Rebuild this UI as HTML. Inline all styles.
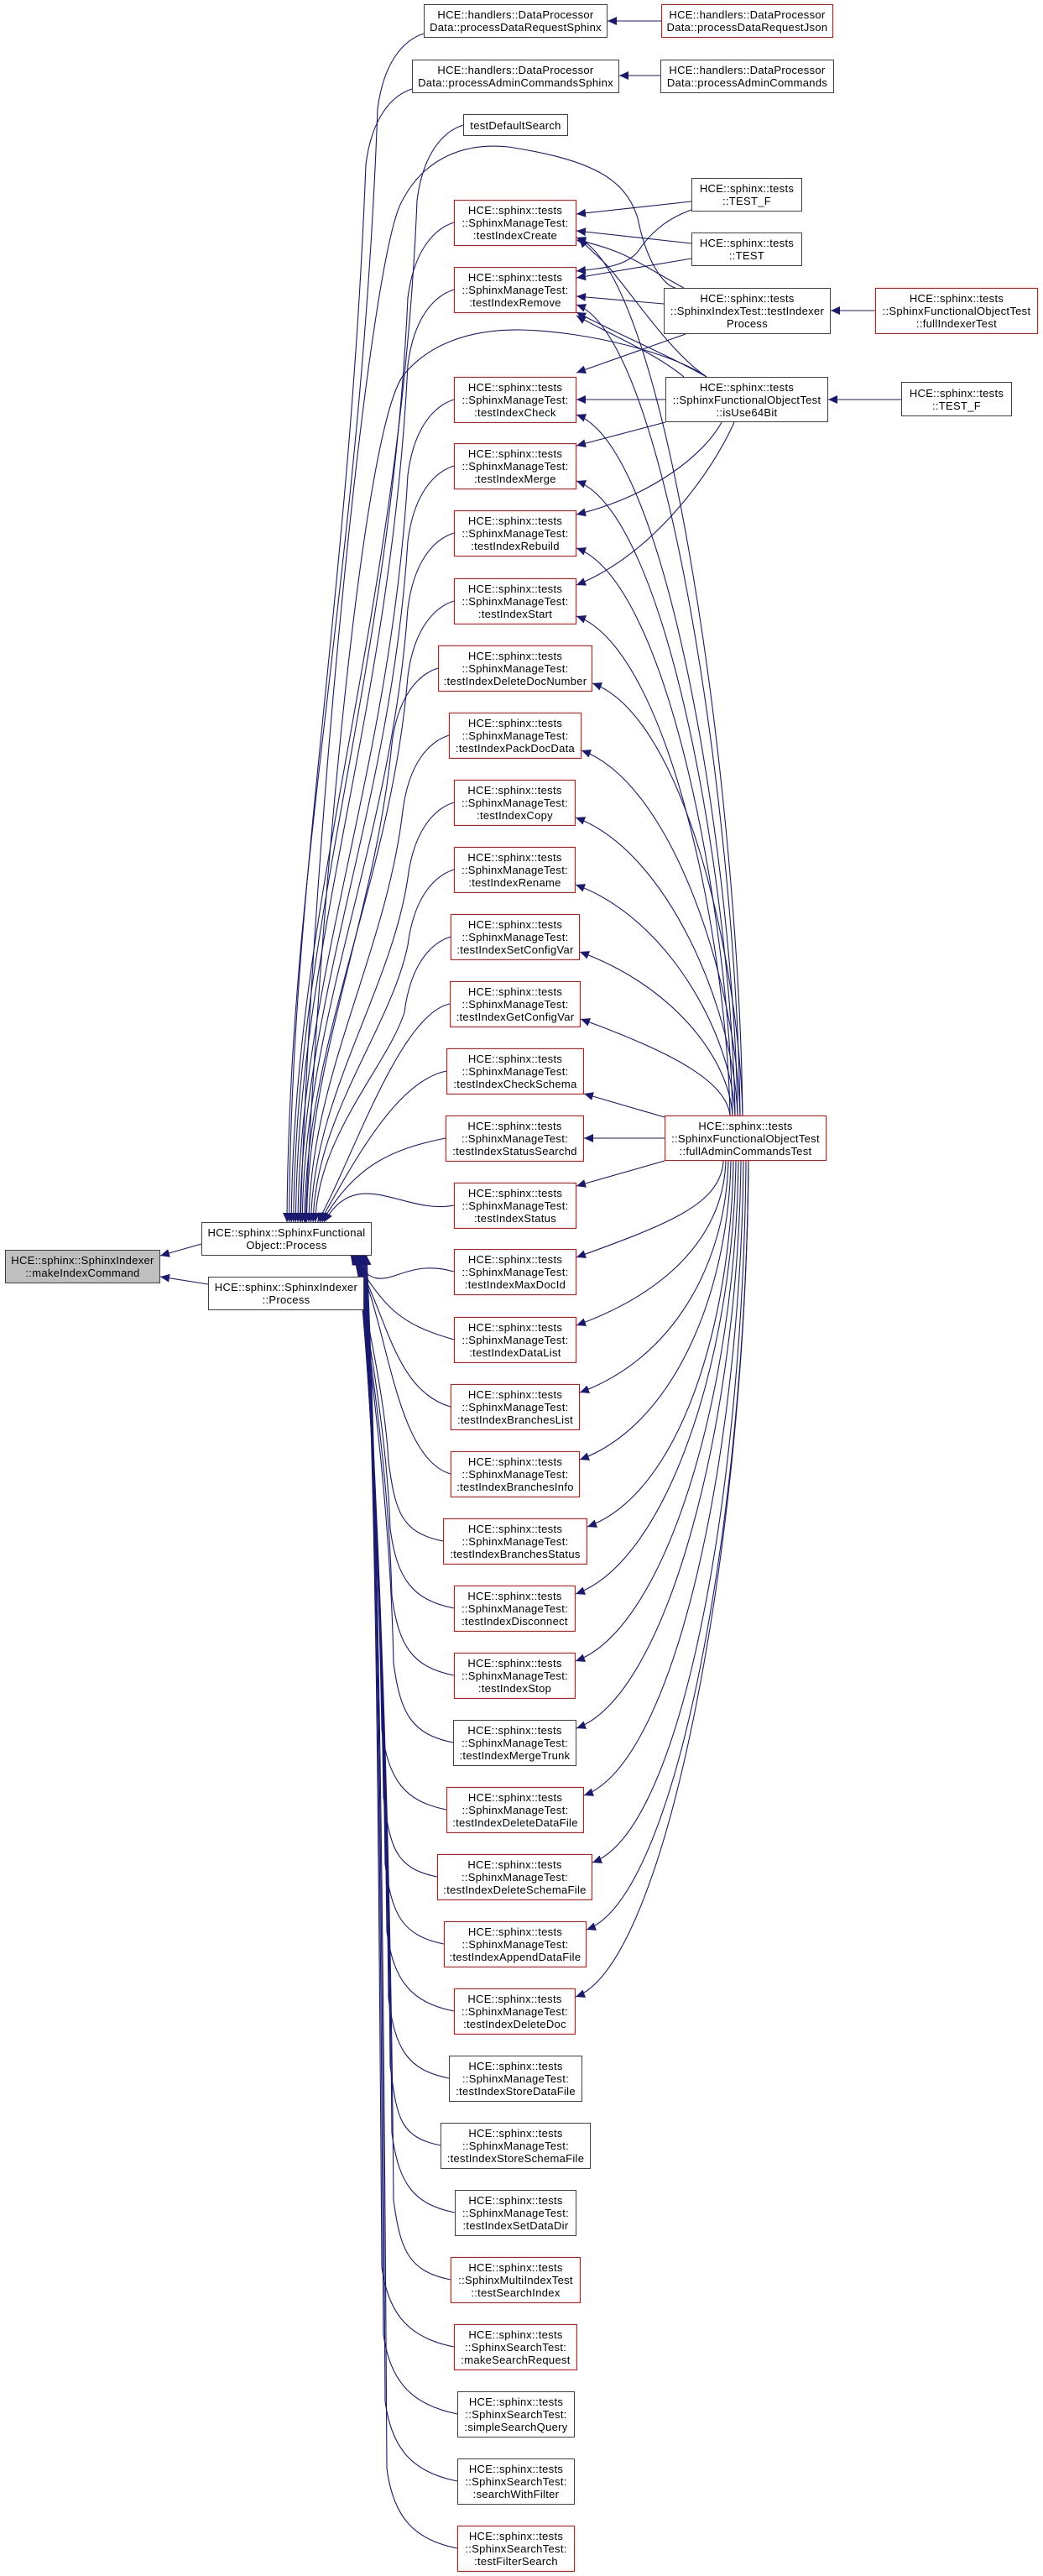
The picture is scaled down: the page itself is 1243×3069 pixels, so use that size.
<!DOCTYPE html>
<html><head><meta charset="utf-8">
<style>
html,body{margin:0;padding:0;background:#fff;}
body{width:1243px;height:3069px;position:relative;overflow:hidden;font-family:"Liberation Sans",Arial,sans-serif;}
.b{position:absolute;box-sizing:border-box;border:1px solid #404040;background:#fff;display:flex;align-items:center;justify-content:center;text-align:center;font-size:13px;line-height:15px;color:#000;white-space:nowrap;letter-spacing:0.3px;}
.r{border-color:#ff0000;}
.g{background:#bfbfbf;}
svg{position:absolute;left:0;top:0;}
</style></head><body>
<svg id="s" width="1243" height="3069" viewBox="0 0 1243 3069">
<defs><marker id="a" markerUnits="userSpaceOnUse" markerWidth="12" markerHeight="10" refX="11" refY="5" orient="auto"><path d="M0,0 L11,5 L0,10 z" fill="#191970"/></marker></defs>
<g id="e" fill="none" stroke="#191970" stroke-width="1.1"></g>
</svg>

<div class="b g" style="left:6px;top:1489px;width:185px;height:40px">HCE::sphinx::SphinxIndexer<br>::makeIndexCommand</div>
<div class="b" style="left:240px;top:1456px;width:203px;height:40px">HCE::sphinx::SphinxFunctional<br>Object::Process</div>
<div class="b" style="left:248px;top:1521px;width:186px;height:40px">HCE::sphinx::SphinxIndexer<br>::Process</div>

<div class="b" style="left:505px;top:5px;width:219px;height:40px">HCE::handlers::DataProcessor<br>Data::processDataRequestSphinx</div>
<div class="b r" style="left:788px;top:5px;width:205px;height:40px">HCE::handlers::DataProcessor<br>Data::processDataRequestJson</div>
<div class="b" style="left:491px;top:71px;width:247px;height:40px">HCE::handlers::DataProcessor<br>Data::processAdminCommandsSphinx</div>
<div class="b" style="left:787px;top:71px;width:207px;height:40px">HCE::handlers::DataProcessor<br>Data::processAdminCommands</div>
<div class="b" style="left:552px;top:136px;width:125px;height:26px">testDefaultSearch</div>

<div class="b" style="left:824px;top:212px;width:132px;height:40px">HCE::sphinx::tests<br>::TEST_F</div>
<div class="b" style="left:824px;top:277px;width:132px;height:40px">HCE::sphinx::tests<br>::TEST</div>
<div class="b" style="left:791px;top:343px;width:199px;height:55px">HCE::sphinx::tests<br>::SphinxIndexTest::testIndexer<br>Process</div>
<div class="b r" style="left:1043px;top:343px;width:194px;height:55px">HCE::sphinx::tests<br>::SphinxFunctionalObjectTest<br>::fullIndexerTest</div>
<div class="b" style="left:793px;top:449px;width:194px;height:54px">HCE::sphinx::tests<br>::SphinxFunctionalObjectTest<br>::isUse64Bit</div>
<div class="b" style="left:1074px;top:455px;width:132px;height:41px">HCE::sphinx::tests<br>::TEST_F</div>
<div class="b r" style="left:792px;top:1329px;width:193px;height:54px">HCE::sphinx::tests<br>::SphinxFunctionalObjectTest<br>::fullAdminCommandsTest</div>

<div class="b r" style="left:541px;top:238px;width:146px;height:55px">HCE::sphinx::tests<br>::SphinxManageTest:<br>:testIndexCreate</div>
<div class="b r" style="left:541px;top:318px;width:146px;height:55px">HCE::sphinx::tests<br>::SphinxManageTest:<br>:testIndexRemove</div>
<div class="b r" style="left:541px;top:449px;width:146px;height:55px">HCE::sphinx::tests<br>::SphinxManageTest:<br>:testIndexCheck</div>
<div class="b r" style="left:541px;top:528px;width:146px;height:55px">HCE::sphinx::tests<br>::SphinxManageTest:<br>:testIndexMerge</div>
<div class="b r" style="left:541px;top:608px;width:146px;height:55px">HCE::sphinx::tests<br>::SphinxManageTest:<br>:testIndexRebuild</div>
<div class="b r" style="left:541px;top:689px;width:146px;height:55px">HCE::sphinx::tests<br>::SphinxManageTest:<br>:testIndexStart</div>
<div class="b r" style="left:522px;top:769px;width:184px;height:55px">HCE::sphinx::tests<br>::SphinxManageTest:<br>:testIndexDeleteDocNumber</div>
<div class="b r" style="left:535px;top:849px;width:158px;height:55px">HCE::sphinx::tests<br>::SphinxManageTest:<br>:testIndexPackDocData</div>
<div class="b r" style="left:541px;top:929px;width:145px;height:55px">HCE::sphinx::tests<br>::SphinxManageTest:<br>:testIndexCopy</div>
<div class="b r" style="left:541px;top:1009px;width:145px;height:55px">HCE::sphinx::tests<br>::SphinxManageTest:<br>:testIndexRename</div>
<div class="b r" style="left:537px;top:1089px;width:154px;height:55px">HCE::sphinx::tests<br>::SphinxManageTest:<br>:testIndexSetConfigVar</div>
<div class="b r" style="left:536px;top:1169px;width:156px;height:55px">HCE::sphinx::tests<br>::SphinxManageTest:<br>:testIndexGetConfigVar</div>
<div class="b r" style="left:532px;top:1249px;width:164px;height:55px">HCE::sphinx::tests<br>::SphinxManageTest:<br>:testIndexCheckSchema</div>
<div class="b r" style="left:531px;top:1329px;width:165px;height:55px">HCE::sphinx::tests<br>::SphinxManageTest:<br>:testIndexStatusSearchd</div>
<div class="b r" style="left:541px;top:1409px;width:146px;height:55px">HCE::sphinx::tests<br>::SphinxManageTest:<br>:testIndexStatus</div>
<div class="b r" style="left:541px;top:1488px;width:146px;height:55px">HCE::sphinx::tests<br>::SphinxManageTest:<br>:testIndexMaxDocId</div>
<div class="b r" style="left:541px;top:1569px;width:146px;height:55px">HCE::sphinx::tests<br>::SphinxManageTest:<br>:testIndexDataList</div>
<div class="b r" style="left:537px;top:1649px;width:154px;height:55px">HCE::sphinx::tests<br>::SphinxManageTest:<br>:testIndexBranchesList</div>
<div class="b r" style="left:537px;top:1729px;width:154px;height:55px">HCE::sphinx::tests<br>::SphinxManageTest:<br>:testIndexBranchesInfo</div>
<div class="b r" style="left:528px;top:1809px;width:172px;height:55px">HCE::sphinx::tests<br>::SphinxManageTest:<br>:testIndexBranchesStatus</div>
<div class="b r" style="left:541px;top:1889px;width:145px;height:55px">HCE::sphinx::tests<br>::SphinxManageTest:<br>:testIndexDisconnect</div>
<div class="b r" style="left:541px;top:1969px;width:145px;height:55px">HCE::sphinx::tests<br>::SphinxManageTest:<br>:testIndexStop</div>
<div class="b" style="left:540px;top:2049px;width:147px;height:55px">HCE::sphinx::tests<br>::SphinxManageTest:<br>:testIndexMergeTrunk</div>
<div class="b r" style="left:532px;top:2129px;width:164px;height:55px">HCE::sphinx::tests<br>::SphinxManageTest:<br>:testIndexDeleteDataFile</div>
<div class="b r" style="left:521px;top:2209px;width:185px;height:55px">HCE::sphinx::tests<br>::SphinxManageTest:<br>:testIndexDeleteSchemaFile</div>
<div class="b r" style="left:529px;top:2289px;width:170px;height:55px">HCE::sphinx::tests<br>::SphinxManageTest:<br>:testIndexAppendDataFile</div>
<div class="b r" style="left:541px;top:2369px;width:145px;height:55px">HCE::sphinx::tests<br>::SphinxManageTest:<br>:testIndexDeleteDoc</div>
<div class="b" style="left:535px;top:2449px;width:159px;height:55px">HCE::sphinx::tests<br>::SphinxManageTest:<br>:testIndexStoreDataFile</div>
<div class="b" style="left:525px;top:2529px;width:179px;height:55px">HCE::sphinx::tests<br>::SphinxManageTest:<br>:testIndexStoreSchemaFile</div>
<div class="b" style="left:542px;top:2609px;width:145px;height:55px">HCE::sphinx::tests<br>::SphinxManageTest:<br>:testIndexSetDataDir</div>
<div class="b r" style="left:537px;top:2689px;width:155px;height:55px">HCE::sphinx::tests<br>::SphinxMultiIndexTest<br>::testSearchIndex</div>
<div class="b r" style="left:541px;top:2769px;width:147px;height:55px">HCE::sphinx::tests<br>::SphinxSearchTest:<br>:makeSearchRequest</div>
<div class="b" style="left:545px;top:2849px;width:140px;height:55px">HCE::sphinx::tests<br>::SphinxSearchTest:<br>:simpleSearchQuery</div>
<div class="b" style="left:545px;top:2929px;width:140px;height:55px">HCE::sphinx::tests<br>::SphinxSearchTest:<br>:searchWithFilter</div>
<div class="b r" style="left:545px;top:3009px;width:140px;height:55px">HCE::sphinx::tests<br>::SphinxSearchTest:<br>:testFilterSearch</div>

<script>
(function(){
var g=document.getElementById('e');
function P(d){var p=document.createElementNS('http://www.w3.org/2000/svg','path');p.setAttribute('d',d);p.setAttribute('marker-end','url(#a)');g.appendChild(p);}
var T=[[238,541,687],[318,541,687],[449,541,687],[528,541,687],[608,541,687],[689,541,687],[769,522,706],[849,535,693],[929,541,686],[1009,541,686],[1089,537,691],[1169,536,692],[1249,532,696],[1329,531,696],[1409,541,687],[1488,541,687],[1569,541,687],[1649,537,691],[1729,537,691],[1809,528,700],[1889,541,686],[1969,541,686],[2049,540,687],[2129,532,696],[2209,521,706],[2289,529,699],[2369,541,686],[2449,535,694],[2529,525,704],[2609,542,687],[2689,537,692],[2769,541,688],[2849,545,685],[2929,545,685],[3009,545,685]];
var ups=[[505,40],[491,106],[552,149]];
T.forEach(function(t){var cy=t[0]+27;if(cy<1456)ups.push([t[1],cy]);});
ups.forEach(function(u,i){
  var bl=u[0],cy=u[1],ay=1456,ax=342+i*2.6, d=ay-cy;
  if(d>260){
    var tx=bl-55;
    P('M'+bl+','+cy+' C'+(bl-25)+','+(cy+8)+' '+(bl-48)+','+(cy+35)+' '+tx+','+(cy+90)+' C'+(tx-20)+','+(cy+d*0.45)+' '+(ax+2)+','+(ay-d*0.3)+' '+ax+','+ay);
  } else {
    P('M'+bl+','+cy+' C'+(bl-60)+','+(cy+12)+' '+(ax+40)+','+(ay-70)+' '+ax+','+ay);
  }
});
var j=0;
T.forEach(function(t){var cy=t[0]+27;if(cy>1496){
  var bl=t[1],ay=1496,ax=Math.min(418+j*1.0,442),d=cy-ay;
  if(d>260){
    var tx=455+(j%8)*2;
    P('M'+bl+','+cy+' C'+(bl-50)+','+(cy-10)+' '+(tx+8)+','+(cy-35)+' '+tx+','+(cy-95)+' C'+(tx-4)+','+(cy-d*0.5)+' '+(ax+14)+','+(ay+d*0.2)+' '+ax+','+ay);
  } else {
    P('M'+bl+','+cy+' C'+(bl-70)+','+(cy-20)+' '+(ax+40)+','+(ay+60)+' '+ax+','+ay);
  }
  j++;}});
for(var i=0;i<=26;i++){
  var t=T[i],br=t[2];
  if(t[0]==1249){P('M792,1331 L'+br+',1303');continue;}
  if(t[0]==1329){P('M792,1356 L'+br+',1356');continue;}
  if(t[0]==1409){P('M792,1383 L'+br+',1413');continue;}
  if(t[0]<1329){
    var ay=t[0]+45,sx=885-(i%6)*3,sy=1329,d=sy-ay;
    P('M'+sx+','+sy+' C'+(sx-4)+','+(sy-d*0.35)+' '+(br+110)+','+(ay+40)+' '+br+','+ay);
  } else {
    var ay=t[0]+10,sx=862+Math.min((i-15)*3,30),sy=1383,d=ay-sy;
    P('M'+sx+','+sy+' C'+(sx-3)+','+(sy+d*0.45)+' '+(br+110)+','+(ay-40)+' '+br+','+ay);
  }
}
P('M788,25 L724,25');
P('M787,90 L738,90');
P('M1043,370 L990,370');
P('M1074,476 L987,476');
P('M240,1482 L191,1496');
P('M248,1530 L191,1521');
P('M824,240 L687,255');
P('M824,250 C790,262 772,282 760,300 C745,318 715,320 687,323');
P('M824,290 L687,275');
P('M824,308 L687,331');
P('M791,362 L687,353');
P('M815,343 C790,330 760,310 735,300 C715,292 700,289 687,286');
P('M817,398 L687,444');
P('M793,476 L687,476');
P('M793,503 L687,531');
P('M860,503 C840,540 780,590 687,613');
P('M875,503 C850,560 780,660 687,697');
P('M842,449 C800,420 760,360 735,330 C722,312 705,300 690,284');
P('M842,449 C800,425 730,395 687,372');
P('M815,449 C780,420 720,395 687,376');
P('M805,343 C790,340 770,310 760,260 C745,210 700,190 606,175 C540,168 500,200 480,238 C440,300 372,1000 358,1456');
P('M842,449 C800,420 700,395 621,393 C560,392 510,410 480,448 C430,520 380,1100 364,1456');
})();
</script>
</body></html>
